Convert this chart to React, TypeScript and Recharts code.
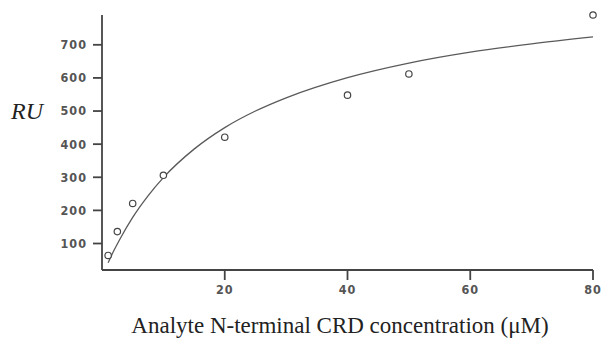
import { ComposedChart, Line, Scatter, XAxis, YAxis } from 'recharts';

// measured points (concentration in uM, response in RU)
const concentrations = [1, 2.5, 5, 10, 20, 40, 50, 80];
const responses = [64, 136, 221, 306, 421, 548, 612, 790];

// fitted binding curve
const fitX = [1, 2, 3, 5, 7.5, 10, 15, 20, 25, 30, 40, 50, 60, 70, 80];
const fitY = [42, 81, 116, 179, 244, 299, 385, 450, 500, 540, 601, 645, 678, 703, 724];

const xTicks = [20, 40, 60, 80];
const yTicks = [100, 200, 300, 400, 500, 600, 700];

const points = concentrations.map((x, i) => ({ x, y: responses[i] }));
const curve = fitX.map((x, i) => ({ x, y: fitY[i] }));

const tickStyle = {
    fontFamily: 'DejaVu Sans Condensed',
    fontSize: 12.5,
    fontWeight: 'bold',
    letterSpacing: 1,
    fill: '#555',
};

const Ring = (props: any) => (
    <circle cx={props.cx} cy={props.cy} r={3.2} fill="#fff" stroke="#444" strokeWidth={1.2} />
);

export default function App() {
    return (
        <div style={{ position: 'absolute', left: 0, top: 0, width: 611, height: 342, background: '#fff' }}>
            <ComposedChart width={611} height={342} margin={{ top: 15, right: 18, bottom: 42, left: 42 }}>
                <XAxis
                    dataKey="x"
                    type="number"
                    domain={[0, 80]}
                    ticks={xTicks}
                    tickSize={10}
                    tickMargin={5}
                    tick={tickStyle}
                    stroke="#444"
                    strokeWidth={1.8}
                    height={30}
                />
                <YAxis
                    dataKey="y"
                    type="number"
                    domain={[20, 790]}
                    ticks={yTicks}
                    tickSize={9}
                    tickMargin={6}
                    tick={tickStyle}
                    stroke="#444"
                    strokeWidth={1.8}
                    width={60}
                />
                <Line
                    data={curve}
                    dataKey="y"
                    type="monotone"
                    stroke="#5a5a5a"
                    strokeWidth={1.3}
                    dot={false}
                    isAnimationActive={false}
                />
                <Scatter data={points} dataKey="y" shape={Ring} isAnimationActive={false} />
            </ComposedChart>
            <div
                style={{
                    position: 'absolute',
                    left: 11,
                    top: 98,
                    fontFamily: 'Liberation Serif',
                    fontStyle: 'italic',
                    fontSize: 24,
                    color: '#222',
                }}
            >
                RU
            </div>
            <div
                style={{
                    position: 'absolute',
                    left: 0,
                    width: 680,
                    top: 313,
                    textAlign: 'center',
                    fontFamily: 'Liberation Serif',
                    fontSize: 23,
                    color: '#222',
                }}
            >
                Analyte N-terminal CRD concentration (μM)
            </div>
        </div>
    );
}
